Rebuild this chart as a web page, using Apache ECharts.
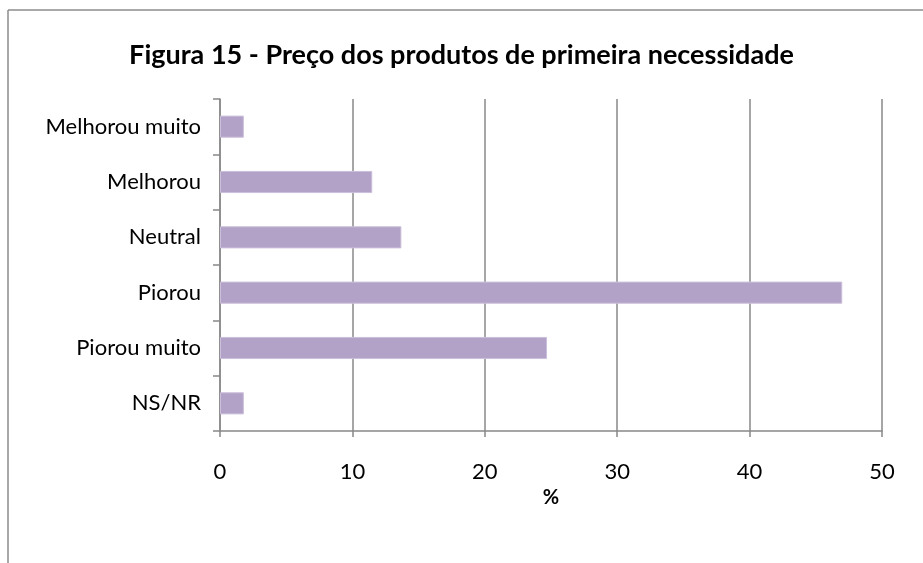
<!DOCTYPE html>
<html>
<head>
<meta charset="utf-8">
<script src="https://cdn.jsdelivr.net/npm/echarts@6/dist/echarts.min.js"></script>
<style>
    html, body { margin: 0; padding: 0; background: #fff; }
    #chart { width: 923px; height: 563px; }
</style>
</head>
<body>
<div id="chart"></div>
<script>
// categories from top to bottom
var categories = ["Melhorou muito", "Melhorou", "Neutral", "Piorou", "Piorou muito", "NS/NR"];
var values = [1.8, 11.5, 13.7, 47.0, 24.7, 1.8];
var xTicks = [0, 10, 20, 30, 40, 50];

var chartDom = document.getElementById("chart");
var myChart = echarts.init(chartDom);
var font = "Lato, 'Open Sans', sans-serif";
var gray = "#888888";

var option = {
    backgroundColor: "#fff",
    animation: false,
    title: {
        text: "Figura 15 - Preço dos produtos de primeira necessidade",
        left: "center",
        top: 37,
        textStyle: { fontFamily: font, fontSize: 27, fontWeight: "bold", color: "#000" },
    },
    // outer frame: only top and left edges are visible in the crop
    graphic: [
        { type: "line", shape: { x1: 8, y1: 10, x2: 923, y2: 10 }, style: { stroke: "#8c8c8c", lineWidth: 1.5 } },
        { type: "line", shape: { x1: 8, y1: 10, x2: 8, y2: 563 }, style: { stroke: "#8c8c8c", lineWidth: 1.5 } },
    ],
    grid: { left: 220, right: 41, top: 99, bottom: 132 },
    xAxis: {
        type: "value",
        min: xTicks[0],
        max: xTicks[xTicks.length - 1],
        interval: 10,
        name: "%",
        nameLocation: "middle",
        nameGap: 56,
        nameTextStyle: { fontFamily: font, fontSize: 20, fontWeight: "bold", color: "#000", verticalAlign: "top" },
        axisLine: { show: true, lineStyle: { color: gray, width: 1.5 } },
        axisTick: { show: true, length: 6, lineStyle: { color: gray, width: 1.5 } },
        axisLabel: { margin: 30, fontFamily: font, fontSize: 22, color: "#000" },
        splitLine: { show: true, lineStyle: { color: gray, width: 1.5 } },
    },
    yAxis: {
        type: "category",
        inverse: true,
        data: categories,
        axisLine: { show: true, lineStyle: { color: gray, width: 1.5 } },
        axisTick: { show: true, length: 7, lineStyle: { color: gray, width: 1.5 } },
        axisLabel: { margin: 19, fontFamily: font, fontSize: 22, color: "#000" },
        splitLine: { show: false },
    },
    series: [
        {
            type: "bar",
            data: values,
            barWidth: "40%",
            itemStyle: { color: "#b3a2c7", borderColor: "#cbbfdb", borderWidth: 1 },
        },
    ],
};
myChart.setOption(option);
</script>
</body>
</html>
